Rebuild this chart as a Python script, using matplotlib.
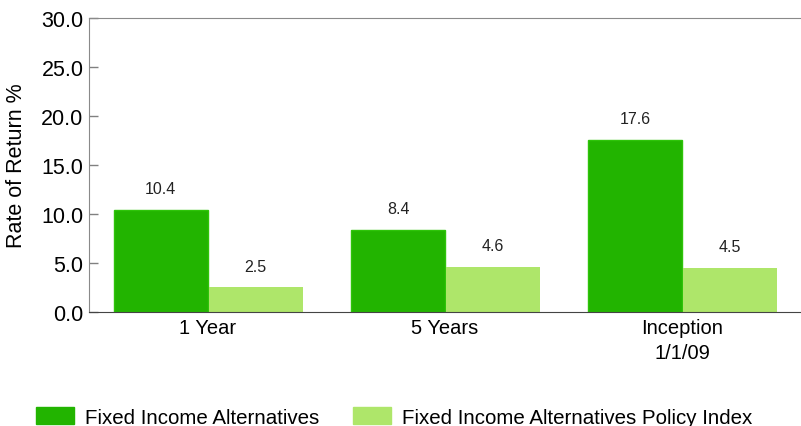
import matplotlib.pyplot as plt
import numpy as np
from matplotlib.patches import Patch

plt.rcParams['font.family'] = ['Liberation Sans', 'DejaVu Sans']

categories = ['1 Year', '5 Years', 'Inception\n1/1/09']
fund = [10.4, 8.4, 17.6]
index = [2.5, 4.6, 4.5]
series_names = ['Fixed Income Alternatives', 'Fixed Income Alternatives Policy Index']
dark = '#22b400'
light = '#aee66a'

fig = plt.figure(figsize=(8.01, 4.27), dpi=100)
ax = fig.add_axes([0.1111, 0.267, 0.8889, 0.6885])

x = np.arange(len(categories))
w = 0.396
b1 = ax.bar(x - w / 2, fund, w, color=dark, edgecolor='#2ec40a', linewidth=1)
b2 = ax.bar(x + w / 2 + 0.004, index, w, color=light, edgecolor=light, linewidth=0)

for bars, vals in ((b1, fund), (b2, index)):
    for r, v in zip(bars, vals):
        ax.annotate('%.1f' % v, (r.get_x() + r.get_width() / 2, v),
                    xytext=(0, 10), textcoords='offset points',
                    ha='center', va='bottom', fontsize=11.5, color='#222222')

ax.set_xlim(-0.5, 2.5)
ax.set_ylim(0, 30)
ax.set_yticks(np.arange(0, 30.1, 5))
ax.set_yticklabels(['%.1f' % t for t in np.arange(0, 30.1, 5)], fontsize=15.5)
ax.set_xticks(x)
ax.set_xticklabels(categories, fontsize=14.5, linespacing=1.4)
ax.tick_params(axis='y', direction='in', length=6.5, width=1, color='#808080', pad=4)
ax.tick_params(axis='x', length=0, pad=4)
ax.set_ylabel('Rate of Return %', fontsize=15.5, labelpad=10)

ax.spines['right'].set_visible(False)
for s in ('left', 'top'):
    ax.spines[s].set_color('#8a8a8a')
ax.spines['bottom'].set_color('#444444')

handles = [Patch(facecolor=dark, edgecolor=dark), Patch(facecolor=light, edgecolor=light)]
fig.legend(handles, series_names, loc='lower left', bbox_to_anchor=(0.022, -0.045),
           ncol=2, frameon=False, fontsize=14.8, handlelength=1.85, handleheight=0.9,
           handletextpad=0.55, columnspacing=1.6)

fig.savefig('out.png', dpi=100)
